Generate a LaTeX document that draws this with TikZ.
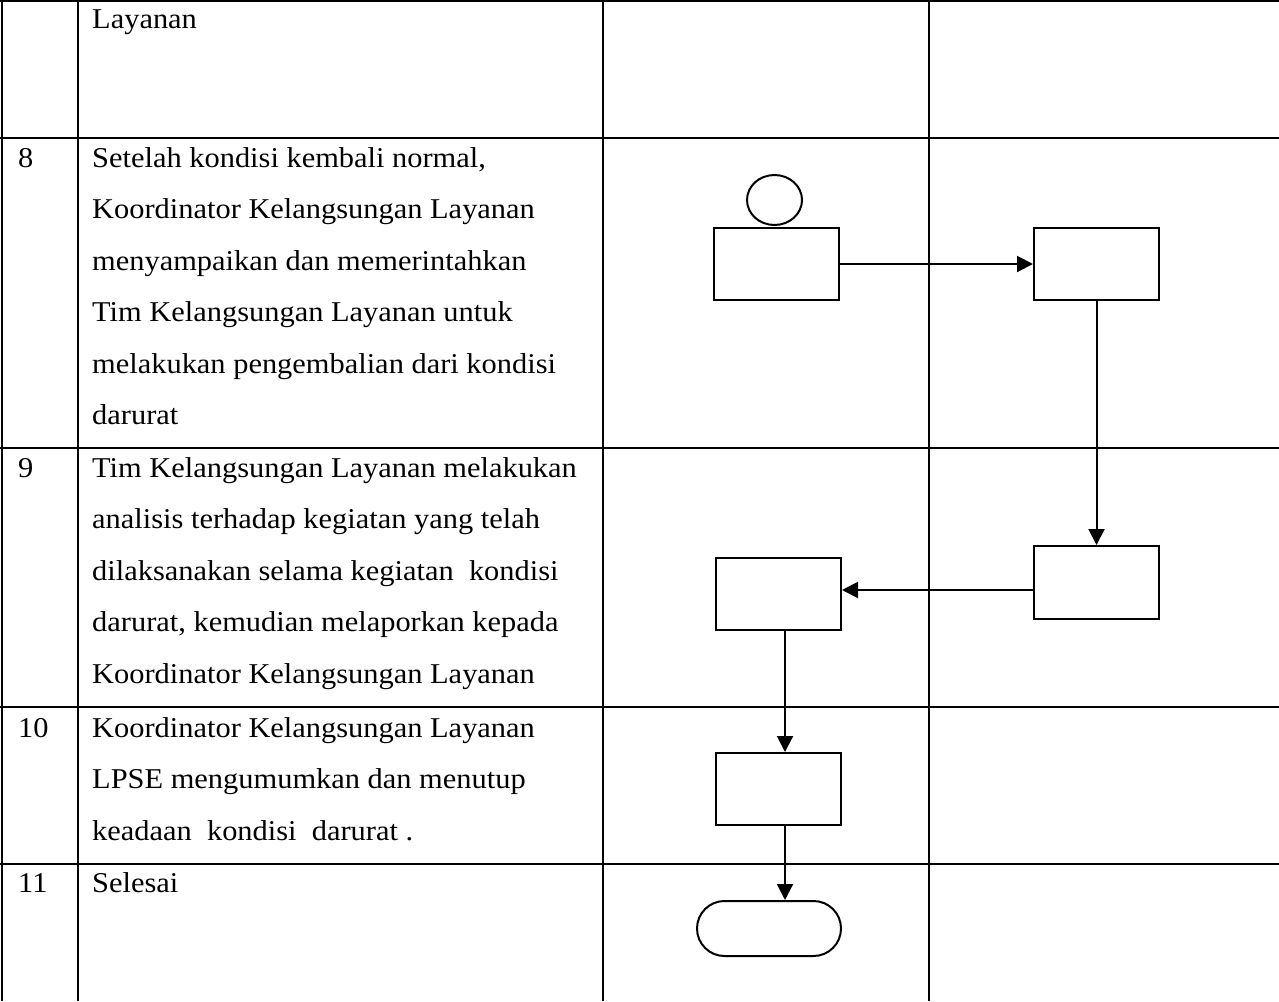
\documentclass[tikz,border=0pt]{standalone}
\usepackage{fontspec}
\setmainfont[FakeStretch=1.06]{Liberation Serif}
\usetikzlibrary{arrows.meta,shapes.geometric,shapes.misc}
\begin{document}
\begin{tikzpicture}[x=1pt,y=-1pt,
  grid/.style={line width=1.4pt,black},
  txt/.style={anchor=base west,inner sep=0pt,font=\fontsize{28.7}{34}\selectfont},
  boxnode/.style={draw,line width=2pt,minimum width=125pt,minimum height=72pt,inner sep=0pt},
  startnode/.style={draw,ellipse,line width=2pt,minimum width=55pt,minimum height=50pt,inner sep=0pt},
  endnode/.style={draw,rounded rectangle,line width=2pt,minimum width=144pt,minimum height=55pt,inner sep=0pt},
  arr/.style={line width=2pt,-{Triangle[length=16pt,width=16pt]}}]
\useasboundingbox (0,0) rectangle (1279,1001);
% table grid
\draw[grid] (0,1) -- (1279,1);
\draw[grid] (0,138) -- (1279,138);
\draw[grid] (0,448) -- (1279,448);
\draw[grid] (0,707) -- (1279,707);
\draw[grid] (0,864) -- (1279,864);
\draw[grid] (2,0) -- (2,1001);
\draw[grid] (78,0) -- (78,1001);
\draw[grid] (603,0) -- (603,1001);
\draw[grid] (929,0) -- (929,1001);
% texts
\node[txt] (t0) at (92,28) {Layanan};
\node[txt] (n8) at (18,167) {8};
\node[txt] (t8a) at (92,167) {Setelah kondisi kembali normal,};
\node[txt] (t8b) at (92,218.5) {Koordinator Kelangsungan Layanan};
\node[txt] (t8c) at (92,270) {menyampaikan dan memerintahkan};
\node[txt] (t8d) at (92,321.5) {Tim Kelangsungan Layanan untuk};
\node[txt] (t8e) at (92,373) {melakukan pengembalian dari kondisi};
\node[txt] (t8f) at (92,424.5) {darurat};
\node[txt] (n9) at (18,477) {9};
\node[txt] (t9a) at (92,477) {Tim Kelangsungan Layanan melakukan};
\node[txt] (t9b) at (92,528.5) {analisis terhadap kegiatan yang telah};
\node[txt] (t9c) at (92,580) {dilaksanakan selama kegiatan~ kondisi};
\node[txt] (t9d) at (92,631.5) {darurat, kemudian melaporkan kepada};
\node[txt] (t9e) at (92,683) {Koordinator Kelangsungan Layanan};
\node[txt] (n10) at (18,737) {10};
\node[txt] (t10a) at (92,737) {Koordinator Kelangsungan Layanan};
\node[txt] (t10b) at (92,788.5) {LPSE mengumumkan dan menutup};
\node[txt] (t10c) at (92,840) {keadaan~ kondisi~ darurat .};
\node[txt] (n11) at (18,892) {11};
\node[txt] (t11a) at (92,892) {Selesai};
% flowchart shapes
\node[startnode] (S) at (774.5,200) {};
\node[boxnode] (A) at (776.5,264) {};
\node[boxnode] (B) at (1096.5,264) {};
\node[boxnode,minimum height=73pt] (C) at (1096.5,582.5) {};
\node[boxnode] (D) at (778.5,594) {};
\node[boxnode] (E) at (778.5,789) {};
\node[endnode] (T) at (769,928.5) {};
% connectors
\draw[arr] (A.east) -- (B.west);
\draw[arr] (B.south) -- (C.north);
\draw[arr] ([yshift=-7.5pt]C.west) -- ([yshift=-7.5pt]C.west -| D.east);
\draw[arr] ([xshift=6.5pt]D.south) -- ([xshift=6.5pt]E.north);
\draw[arr] ([xshift=6.5pt]E.south) -- ([xshift=6.5pt]E.south |- T.north);
\end{tikzpicture}
\end{document}
